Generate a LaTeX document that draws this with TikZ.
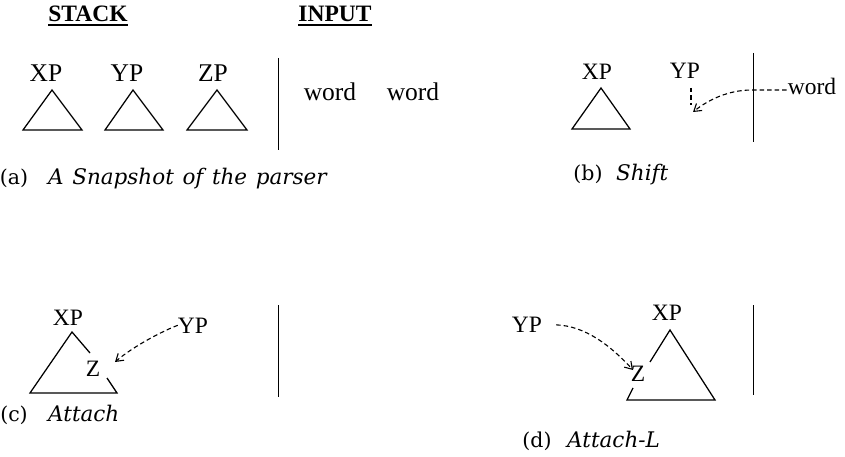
\documentclass[tikz,border=0pt]{standalone}
\usepackage{fontspec}
\setmainfont{Liberation Serif}
\newfontfamily\capfont{DejaVu Serif}
\newcommand\widespaces{\spaceskip=0.4em plus 0.1em\relax}
\usetikzlibrary{arrows.meta,calc}
\begin{document}
\begin{tikzpicture}[x=1pt,y=-1pt,
  lblA/.style={font=\fontsize{25.5}{26}\selectfont, inner sep=0pt, anchor=base},
  lbl/.style={font=\fontsize{23.5}{24}\selectfont, inner sep=0pt, anchor=base},
  head/.style={font=\fontsize{23.5}{24}\selectfont\bfseries, inner sep=0pt, anchor=base},
  capnum/.style={font=\capfont\fontsize{20.5}{21}\selectfont, inner sep=0pt, anchor=base},
  captxt/.style={font=\capfont\itshape\fontsize{21.5}{22}\selectfont\widespaces, inner sep=0pt, anchor=base west},
  tri/.style={draw, line width=1.25pt, line join=miter},
  bar/.style={draw, line width=1pt},
  dashln/.style={draw, line width=1.1pt, dash pattern=on 4.5pt off 3pt},
  dasharrow/.style={dashln, -{Straight Barb[length=7pt,width=9pt,line width=1.1pt]}}
  ]
\useasboundingbox (0,0) rectangle (845,457);

% ---------- (a) ----------
\node[head] (stack) at (88,22) {STACK};
\draw[line width=1.1pt] ($(stack.base west)+(0,3)$) -- ($(stack.base east)+(0,3)$);
\node[head] (input) at (335,22) {INPUT};
\draw[line width=1.1pt] ($(input.base west)+(0,3)$) -- ($(input.base east)+(0,3)$);

\node[lblA] (xpA) at (46,82) {XP};
\node[lblA] (ypA) at (127,82) {YP};
\node[lblA] (zpA) at (213,82) {ZP};
\draw[tri] (52,90) -- (82,130) -- (23,130) -- cycle;
\draw[tri] (133,90) -- (163,130) -- (105,130) -- cycle;
\draw[tri] (217,90) -- (247,130) -- (187,130) -- cycle;
\draw[bar] (278,58) -- (278,150);
\node[lblA] (wordA1) at (330,101) {word};
\node[lblA] (wordA2) at (413,101) {word};
\node[capnum] (capA) at (14,185) {(a)};
\node[captxt] (capAt) at (48,185) {A Snapshot of the parser};

% ---------- (b) ----------
\node[lbl] (xpB) at (597,80) {XP};
\node[lbl] (ypB) at (685,79) {YP};
\draw[tri] (601,88) -- (630,129) -- (572,129) -- cycle;
\draw[dashln] (691,88) -- (691,105);
\draw[bar] (753,53) -- (753,142);
\node[lbl] (wordB) at (812,95) {word};
\coordinate (bTip) at (693,112);
\draw[dasharrow] ($(wordB.base west)+(-1,-5)$) -- (752,90) .. controls (728,90) and (708,100) .. (bTip);
\node[capnum] (capB) at (588,180) {(b)};
\node[captxt] (capBt) at (616,180) {Shift};

% ---------- (c) ----------
\node[lbl] (xpC) at (68,325) {XP};
\node[lbl] (zC) at (93,376) {Z};
\node[lbl] (ypC) at (193,333) {YP};
\draw[tri] (90,353) -- (72,332) -- (30,393) -- (117,393) -- (107,378);
\coordinate (cTip) at (115,362);
\draw[dasharrow] (ypC.west) .. controls (165,330) and (135,345) .. (cTip);
\draw[bar] (278,305) -- (278,397);
\node[capnum] (capC) at (14,421) {(c)};
\node[captxt] (capCt) at (48,421) {Attach};

% ---------- (d) ----------
\node[lbl] (ypD) at (527,332) {YP};
\node[lbl] (xpD) at (667,320) {XP};
\node[lbl] (zD) at (638,381) {Z};
\draw[tri] (650,362) -- (670,330) -- (715,400) -- (627,400) -- (633,388);
\coordinate (dTip) at (633,370);
\draw[dasharrow, shorten <=14pt] (ypD.east) .. controls (585,326) and (610,345) .. (dTip);
\draw[bar] (753,305) -- (753,395);
\node[capnum] (capD) at (537,447) {(d)};
\node[captxt] (capDt) at (567,447) {Attach-L};
\end{tikzpicture}
\end{document}
